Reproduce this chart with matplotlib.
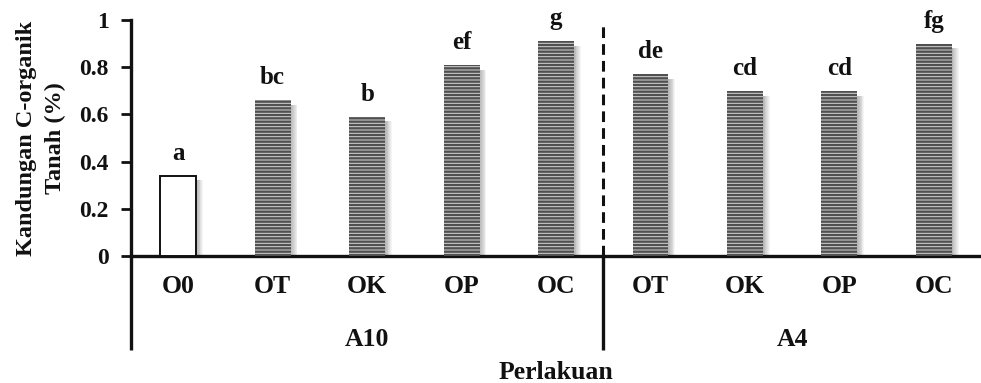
import matplotlib
matplotlib.use('Agg')
import matplotlib.pyplot as plt
from matplotlib.transforms import blended_transform_factory

# data
treatments = ['O0', 'OT', 'OK', 'OP', 'OC', 'OT', 'OK', 'OP', 'OC']
groups = ['A10', 'A4']
group_sizes = [5, 4]
c_organic = [0.34, 0.66, 0.59, 0.81, 0.91, 0.77, 0.70, 0.70, 0.90]
letters = ['a', 'bc', 'b', 'ef', 'g', 'de', 'cd', 'cd', 'fg']
y_ticks = [0, 0.2, 0.4, 0.6, 0.8, 1]
y_tick_labels = ['0', '0.2', '0.4', '0.6', '0.8', '1']

FONT = 'Liberation Serif'
INK = '#111111'
HATCH = '#505050'
FILL = '#d4d4d4'
BW = 0.38
LOW = -0.40   # bottom of category separators (data units)
FS = 18.5

plt.rcParams['font.family'] = FONT
plt.rcParams['font.weight'] = 'bold'
plt.rcParams['hatch.linewidth'] = 1.7

fig = plt.figure(figsize=(9.81, 3.83), dpi=100)
ax = fig.add_axes([131 / 981, 127 / 383, 850 / 981, 236 / 383])

xs = list(range(len(treatments)))

# soft drop shadow to the right of every bar
for k in range(1, 9):
    ax.bar([x + k * 0.009 for x in xs], [h - 0.02 for h in c_organic], BW,
           color='black', alpha=0.04, linewidth=0, zorder=1)

for x, h, lab in zip(xs, c_organic, letters):
    if x == 0:
        ax.bar(x, h, BW, facecolor='white', edgecolor=INK, linewidth=1.4, zorder=3)
    else:
        ax.bar(x, h, BW, facecolor=FILL, edgecolor=HATCH, linewidth=0,
               hatch='-----', zorder=3)
    ax.text(x, h + 0.068, lab, ha='center', va='baseline', fontsize=18,
            fontweight='bold', color=INK, clip_on=False)

ax.set_xlim(-0.5, len(treatments) - 0.5)
ax.set_ylim(0, 1)
ax.set_yticks(y_ticks)
ax.set_yticklabels(y_tick_labels, fontsize=17, fontweight='bold', color=INK)
ax.tick_params(axis='y', direction='out', length=7, width=2, pad=9, colors=INK)
ax.set_xticks(xs)
ax.set_xticklabels(treatments, fontsize=FS, fontweight='bold', color=INK)
ax.tick_params(axis='x', length=0, pad=14)

for s in ['top', 'right']:
    ax.spines[s].set_visible(False)
ax.spines['left'].set_linewidth(2.4)
ax.spines['bottom'].set_linewidth(2.4)
ax.spines['left'].set_color(INK)
ax.spines['bottom'].set_color(INK)

# category separators below the axis and the group divider
ax.plot([-0.5, -0.5], [LOW, 0], color=INK, lw=2.4, clip_on=False,
        solid_capstyle='butt')
edge = -0.5
for g, n in zip(groups, group_sizes):
    ax.text(edge + n / 2, -0.38, g, ha='center', va='baseline', fontsize=FS,
            fontweight='bold', color=INK, clip_on=False)
    edge += n
    if edge < len(treatments) - 0.5:
        ax.plot([edge, edge], [LOW, 0], color=INK, lw=2.4, clip_on=False,
                solid_capstyle='butt')
        ax.plot([edge, edge], [0, 0.99], color=INK, lw=2.2, ls=(0, (3.5, 2)),
                clip_on=False)

ax.text(0.5, -0.52, 'Perlakuan', ha='center', va='baseline', fontsize=FS,
        fontweight='bold', color=INK, clip_on=False,
        transform=blended_transform_factory(ax.transAxes, ax.transData))
ax.set_ylabel('Kandungan C-organik\nTanah (%)', fontsize=17.5, fontweight='bold',
              color=INK, linespacing=1.5)
ax.yaxis.set_label_coords(-0.076, 0.5)

fig.savefig('out.png', dpi=100, facecolor='white')
